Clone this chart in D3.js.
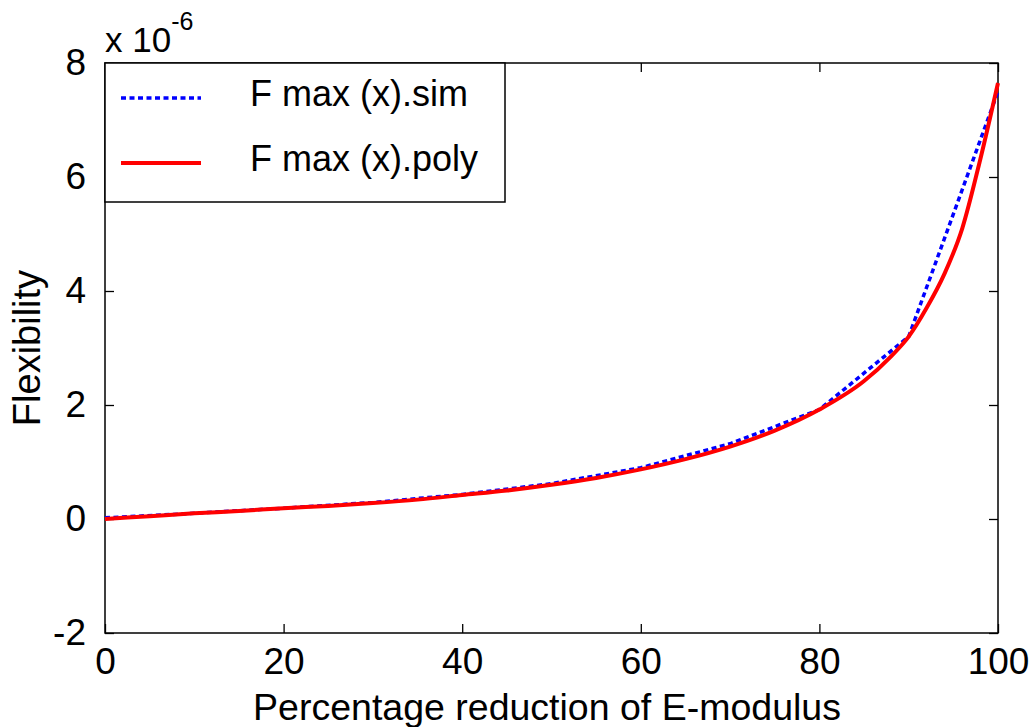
<!DOCTYPE html>
<html>
<head>
<meta charset="utf-8">
<script src="https://cdn.jsdelivr.net/npm/d3@7"></script>
<style>
  body { margin: 0; background: #fff; }
  text { font-family: "Liberation Sans", Arial, sans-serif; fill: #000; }
</style>
</head>
<body>
<div class="graph"></div>
<script>
// Data (flexibility in units of 1e-6)
const simX = [0, 10, 20, 30, 40, 50, 60, 70, 80, 90, 100];
const simY = [0.02, 0.1, 0.19, 0.29, 0.43, 0.62, 0.9, 1.32, 1.92, 3.2, 7.5];

const polyX = [0, 5, 10, 15, 20, 25, 30, 35, 40, 45, 50, 55, 60, 65, 70, 75, 80, 85, 88, 90, 92, 94, 96, 98, 100];
const polyY = [0.0, 0.05, 0.1, 0.14, 0.19, 0.23, 0.28, 0.34, 0.42, 0.5, 0.6, 0.72, 0.87, 1.05, 1.27, 1.55, 1.92, 2.42, 2.85, 3.2, 3.7, 4.3, 5.1, 6.3, 7.65];

const xTicks = [0, 20, 40, 60, 80, 100];
const yTicks = [-2, 0, 2, 4, 6, 8];
const legendLabels = ['F max (x).sim', 'F max (x).poly'];

// Chart dimensions
const W = 1035, H = 727;
const margin = { top: 63, right: 37, bottom: 94, left: 105 };
const width = W - margin.left - margin.right;
const height = H - margin.top - margin.bottom;

const svg = d3.select('.graph')
    .append('svg')
    .attr('width', W)
    .attr('height', H);

const g = svg.append('g')
    .attr('transform', `translate(${margin.left},${margin.top})`);

// Scales
const xScale = d3.scaleLinear().domain([0, 100]).range([0, width]);
const yScale = d3.scaleLinear().domain([-2, 8]).range([height, 0]);

// Axes, MATLAB style: ticks inside on all four sides
const tickLen = 9;
const plain = d => String(d);
const styleAxis = sel => {
    sel.select('.domain').remove();
    sel.selectAll('line').attr('stroke', '#000').attr('stroke-width', 1.3);
    sel.selectAll('text').style('font-size', '37px');
};

g.append('g')
    .attr('transform', `translate(0,${height})`)
    .call(d3.axisBottom(xScale).tickValues(xTicks).tickSize(-tickLen).tickPadding(15).tickFormat(plain))
    .call(styleAxis)
    .call(s => s.selectAll('text').attr('dy', '0.71em'));

g.append('g')
    .call(d3.axisTop(xScale).tickValues(xTicks).tickSize(-tickLen).tickFormat(''))
    .call(styleAxis);

g.append('g')
    .call(d3.axisLeft(yScale).tickValues(yTicks).tickSize(-tickLen).tickPadding(19).tickFormat(plain))
    .call(styleAxis);

g.append('g')
    .attr('transform', `translate(${width},0)`)
    .call(d3.axisRight(yScale).tickValues(yTicks).tickSize(-tickLen).tickFormat(''))
    .call(styleAxis);

// Box
g.append('rect')
    .attr('width', width)
    .attr('height', height)
    .attr('fill', 'none')
    .attr('stroke', '#000')
    .attr('stroke-width', 1.5);

// Lines
const line = d3.line()
    .x(d => xScale(d[0]))
    .y(d => yScale(d[1]));

g.append('path')
    .datum(simX.map((x, i) => [x, simY[i]]))
    .attr('d', line)
    .attr('fill', 'none')
    .attr('stroke', '#0000ff')
    .attr('stroke-width', 3.5)
    .attr('stroke-dasharray', '5,3.5');

g.append('path')
    .datum(polyX.map((x, i) => [x, polyY[i]]))
    .attr('d', line.curve(d3.curveMonotoneX))
    .attr('fill', 'none')
    .attr('stroke', '#ff0000')
    .attr('stroke-width', 4);

// Legend
const legend = g.append('g');
legend.append('rect')
    .attr('width', 400)
    .attr('height', 139)
    .attr('fill', '#fff')
    .attr('stroke', '#000')
    .attr('stroke-width', 1.5);

const legendStyles = [
    { color: '#0000ff', dash: '5,3.5', w: 3.5 },
    { color: '#ff0000', dash: null, w: 4 }
];

legendLabels.forEach((label, i) => {
    const y = 35 + i * 65;
    legend.append('line')
        .attr('x1', 16).attr('x2', 96)
        .attr('y1', y).attr('y2', y)
        .attr('stroke', legendStyles[i].color)
        .attr('stroke-width', legendStyles[i].w)
        .attr('stroke-dasharray', legendStyles[i].dash);
    legend.append('text')
        .attr('x', 145)
        .attr('y', y + 8)
        .style('font-size', '36px')
        .text(label);
});

// Exponent label
const expo = svg.append('text')
    .attr('x', 105)
    .attr('y', 52)
    .style('font-size', '35px');
expo.append('tspan').text('x 10');
expo.append('tspan')
    .attr('dy', -22)
    .style('font-size', '25px')
    .text('-6');

// Axis titles
svg.append('text')
    .attr('x', 547)
    .attr('y', 720)
    .attr('text-anchor', 'middle')
    .style('font-size', '37.5px')
    .text('Percentage reduction of E-modulus');

svg.append('text')
    .attr('transform', `translate(40,348) rotate(-90)`)
    .attr('text-anchor', 'middle')
    .style('font-size', '38px')
    .text('Flexibility');
</script>
</body>
</html>
